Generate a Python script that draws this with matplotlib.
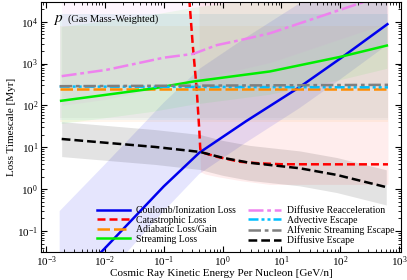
import numpy as np
import matplotlib
matplotlib.use("Agg")
import matplotlib.pyplot as plt
from matplotlib.ticker import LogLocator, NullFormatter

plt.rcParams['font.family'] = ['Liberation Serif', 'DejaVu Serif']
plt.rcParams['mathtext.fontset'] = 'stix'

# ---------------- data ----------------
# Coulomb / ionization loss
E_coul = [1.7e-3, 1e-2, 0.1, 0.4, 2.5, 20, 100, 630]
t_coul = [0.003, 0.039, 1.17, 7.4, 42, 270, 1320, 8700]
lo_coul = [0.0006, 0.008, 0.3, 2.3, 13, 85, 420, 2800]
hi_coul = [0.3, 3.9, 117, 740, 4200, 27000, 1.3e5, 8.7e5]

# Catastrophic loss
E_cat = [0.26, 0.271, 0.309, 0.363, 0.401, 0.417, 0.50, 0.794, 1.95, 4.27, 10, 100, 645]
t_cat = [6e4, 35000, 3000, 234, 25.7, 8.9, 7.2, 5.96, 4.52, 4.14, 3.94, 3.92, 3.92]
E_cat_band = [0.395, 0.405, 0.42, 0.5, 0.8, 2.0, 6.3, 645]
lo_cat = [1e5, 30, 2.6, 2.3, 2.0, 1.6, 1.3, 1.3]
hi_cat = [1e6, 1e6, 1e6, 1e6, 1e6, 1e6, 1e6, 1e6]

# Adiabatic loss/gain
E_adi = [1.7e-3, 645]
t_adi = [245, 245]
lo_adi = [40, 40]
hi_adi = [8000, 8000]

# Streaming loss
E_str = [1.8e-3, 0.063, 0.316, 6.3, 100, 617]
t_str = [129, 251, 372, 646, 1445, 2690]
lo_str = [37, 72, 107, 185, 415, 770]
hi_str = [7600, 14800, 22000, 38000, 85000, 1.6e5]

# Diffusive reacceleration
E_rea = [1.84e-3, 0.0107, 0.0398, 0.1, 0.316, 0.794, 2.0, 6.3, 31.6, 214, 630]
t_rea = [500, 708, 1047, 1380, 1700, 2750, 3630, 5250, 11200, 27500, 45700]
lo_rea = [100, 140, 210, 275, 340, 550, 725, 1050, 2240, 5500, 9100]
hi_rea = [30000, 42000, 63000, 83000, 1e5, 1.6e5, 2.2e5, 3.1e5, 6.7e5, 1.6e6, 2.7e6]

# Advective escape
E_adv = [1.7e-3, 645]
t_adv = [282, 270]
lo_adv = [45, 45]
hi_adv = [15000, 15000]

# Alfvenic streaming escape
E_alf = [1.7e-3, 645]
t_alf = [288, 310]
lo_alf = [50, 50]
hi_alf = [15000, 15000]

# Diffusive escape
E_dif = [1.84e-3, 0.0708, 0.411, 1.0, 2.88, 20.4, 87, 603]
t_dif = [15.8, 10.2, 7.76, 5.62, 4.27, 3.16, 2.19, 1.12]
lo_dif = [6.0, 3.9, 2.95, 2.14, 1.62, 1.2, 0.83, 0.42]
hi_dif = [41, 26.5, 20.2, 14.6, 11.1, 8.2, 5.7, 2.9]

labels = ["Coulomb/Ionization Loss", "Catastrophic Loss", "Adiabatic Loss/Gain",
          "Streaming Loss", "Diffusive Reacceleration", "Advective Escape",
          "Alfvenic Streaming Escape", "Diffusive Escape"]

# ---------------- figure ----------------
fig = plt.figure(figsize=(4.07, 2.80), dpi=100)
ax = fig.add_axes([0.1007, 0.1, 0.8843, 0.894])

series = [
    (E_coul, t_coul, E_coul, lo_coul, hi_coul, '#0000ee', '-', labels[0], 0.1),
    (E_cat, t_cat, E_cat_band, lo_cat, hi_cat, '#ff0000', (0, (3.2, 1.6)), labels[1], 0.07),
    (E_adi, t_adi, E_adi, lo_adi, hi_adi, '#ff8c00', (0, (5, 1.6)), labels[2], 0.07),
    (E_str, t_str, E_str, lo_str, hi_str, '#00ee00', '-', labels[3], 0.07),
    (E_rea, t_rea, E_rea, lo_rea, hi_rea, '#ee82ee', (0, (6, 1.5, 1.5, 1.5)), labels[4], 0.08),
    (E_adv, t_adv, E_adv, lo_adv, hi_adv, '#00bfff', (0, (4, 1.2, 1.2, 1.2, 1.2, 1.2)), labels[5], 0.06),
    (E_alf, t_alf, E_alf, lo_alf, hi_alf, '#808080', (0, (5, 1.5, 1.5, 1.5)), labels[6], 0.07),
    (E_dif, t_dif, E_dif, lo_dif, hi_dif, '#000000', (0, (3.5, 1.6)), labels[7], 0.11),
]

handles = []
for E, t, Eb, lo, hi, c, ls, lab, a in series:
    ax.fill_between(Eb, lo, hi, color=c, alpha=a, lw=0)
for E, t, Eb, lo, hi, c, ls, lab, a in series:
    h, = ax.plot(E, t, color=c, ls=ls, lw=1.8, label=lab)
    handles.append(h)

ax.set_xscale('log')
ax.set_yscale('log')
ax.set_xlim(10**-3.087, 10**3.029)
ax.set_ylim(10**-1.5, 3.0e4)

ax.xaxis.set_major_locator(LogLocator(base=10, numticks=20))
ax.xaxis.set_minor_locator(LogLocator(base=10, subs=np.arange(2, 10), numticks=20))
ax.yaxis.set_major_locator(LogLocator(base=10, numticks=20))
ax.yaxis.set_minor_locator(LogLocator(base=10, subs=np.arange(2, 10), numticks=20))
ax.xaxis.set_minor_formatter(NullFormatter())
ax.yaxis.set_minor_formatter(NullFormatter())
ax.tick_params(which='both', direction='in', top=True, right=True, labelsize=8)
ax.tick_params(axis='x', which='major', pad=2)
ax.tick_params(axis='y', which='major', pad=2)
ax.tick_params(which='major', length=4, width=0.8)
ax.tick_params(which='minor', length=2, width=0.6)
for s in ax.spines.values():
    s.set_linewidth(0.8)

ax.set_xlabel("Cosmic Ray Kinetic Energy Per Nucleon [GeV/n]", fontsize=8, labelpad=0)
ax.set_ylabel("Loss Timescale [Myr]", fontsize=8, labelpad=1)

ax.text(0.032, 0.955, "$p$", transform=ax.transAxes, fontsize=11, va='top', ha='left')
ax.text(0.075, 0.95, "(Gas Mass-Weighted)", transform=ax.transAxes, fontsize=7.5, va='top', ha='left')

leg = ax.legend(handles=handles, ncol=2, frameon=False, fontsize=7,
                loc='lower right', bbox_to_anchor=(1.0, 0.0),
                handlelength=3.4, handletextpad=0.6, columnspacing=1.2,
                labelspacing=0.05, borderaxespad=0.3)

fig.savefig("out.png", dpi=100)
